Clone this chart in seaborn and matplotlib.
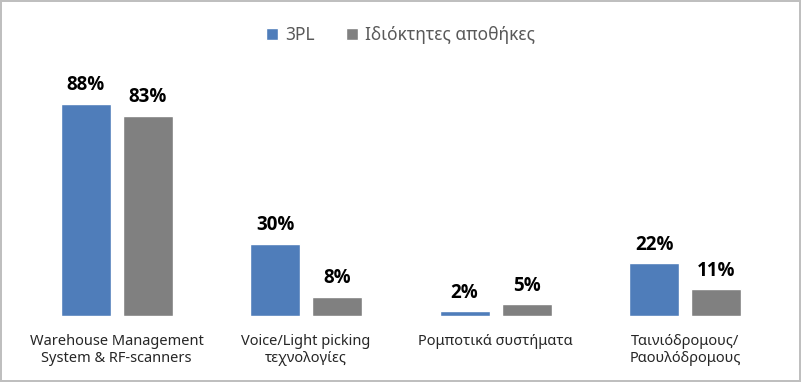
import matplotlib
matplotlib.use("Agg")
import matplotlib.pyplot as plt
import seaborn as sns
import pandas as pd

categories = ["Warehouse Management\nSystem & RF-scanners",
              "Voice/Light picking\nτεχνολογίες",
              "Ρομποτικά συστήματα",
              "Ταινιόδρομους/\nΡαουλόδρομους"]
series_names = ["3PL", "Ιδιόκτητες αποθήκες"]
values_3pl = [88, 30, 2, 22]
values_own = [83, 8, 5, 11]

df = pd.DataFrame({
    "Category": categories * 2,
    "Series": [series_names[0]] * 4 + [series_names[1]] * 4,
    "Value": values_3pl + values_own,
})

sns.set_theme(style="white")
plt.rcParams["font.family"] = ["Noto Sans", "DejaVu Sans"]

fig = plt.figure(figsize=(8.01, 3.82), dpi=100)
ax = fig.add_axes([0.0275, 0.1728, 0.946, 0.644])

palette = {series_names[0]: "#4F7DBA", series_names[1]: "#808080"}
sns.barplot(data=df, x="Category", y="Value", hue="Series", palette=palette,
            width=0.654, gap=0.194, saturation=1, ax=ax)

# bold value labels above the bars
for cont in ax.containers:
    ax.bar_label(cont, labels=[f"{v:.0f}%" for v in cont.datavalues],
                 padding=6, fontsize=13.5, fontweight="bold", color="black",
                 fontfamily=["Open Sans", "DejaVu Sans"])

ax.set_xlim(-0.5, 3.5)
ax.set_ylim(0, 102)
ax.set_xlabel("")
ax.set_ylabel("")
ax.set_yticks([])
ax.tick_params(axis="x", length=0, pad=13, labelsize=10.5, colors="#262626")
for s in ax.spines.values():
    s.set_visible(False)

leg = ax.legend(loc="upper center", bbox_to_anchor=(0.5, 1.0), bbox_transform=fig.transFigure,
                ncol=2, frameon=False, fontsize=12.5, handlelength=0.7, handleheight=0.7,
                columnspacing=1.8, handletextpad=0.4, borderaxespad=1.1)
for t in leg.get_texts():
    t.set_color("#595959")

fig.patch.set_edgecolor("#BFBFBF")
fig.patch.set_linewidth(1.5)

fig.savefig("out.png", dpi=100, edgecolor=fig.get_edgecolor())
